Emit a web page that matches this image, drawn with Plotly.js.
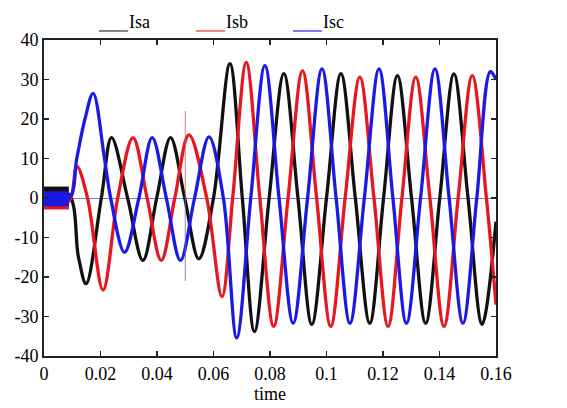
<!DOCTYPE html>
<html>
<head>
<meta charset="utf-8">
<script src="https://cdn.plot.ly/plotly-3.0.1.min.js"></script>
<style>
html,body{margin:0;padding:0;background:#fff;}
#chart{width:567px;height:408px;}
</style>
</head>
<body>
<div id="chart"></div>
<script>
// ---- data ----
const seriesNames = ['Isa', 'Isb', 'Isc'];

const isaT = [0, 0.0086, 0.0122, 0.0149, 0.0203, 0.0239, 0.0296, 0.0350, 0.0399, 0.0448, 0.0498, 0.0548, 0.0600, 0.0658, 0.0702, 0.0745, 0.0797, 0.0849, 0.0899, 0.0948, 0.1000, 0.1051, 0.1102, 0.1153, 0.1202, 0.1251, 0.1301, 0.1351, 0.1401, 0.1451, 0.1501, 0.1551, 0.1600];
const isaV = [1, 1, -15, -21.7, 0, 15.3, 0, -15.8, 0, 15.3, 0, -15.4, 0, 34, 0, -33.8, 0, 31.5, 0, -32, 0, 31.5, 0, -31.7, 0, 31, 0, -31.7, 0, 31.4, 0, -32, -6];

const isbT = [0, 0.0086, 0.0116, 0.0154, 0.0209, 0.0261, 0.0315, 0.0365, 0.0415, 0.0463, 0.0513, 0.0576, 0.0630, 0.0668, 0.0716, 0.0764, 0.0813, 0.0864, 0.0915, 0.0965, 0.1015, 0.1066, 0.1118, 0.1168, 0.1218, 0.1267, 0.1316, 0.1366, 0.1416, 0.1466, 0.1516, 0.1566, 0.1600];
const isbV = [-1, -1, 8, 0, -23.3, 0, 15.3, 0, -15.8, 0, 16, 0, -25, 0, 34.3, 0, -32.5, 0, 32.2, 0, -32.5, 0, 30.6, 0, -32.5, 0, 30.6, 0, -32.5, 0, 31, 0, -27];

const iscT = [0, 0.0088, 0.0116, 0.0145, 0.0174, 0.0214, 0.0236, 0.0285, 0.0336, 0.0383, 0.0433, 0.0483, 0.0533, 0.0584, 0.0635, 0.0682, 0.0732, 0.0782, 0.0832, 0.0882, 0.0933, 0.0984, 0.1034, 0.1083, 0.1134, 0.1186, 0.1235, 0.1283, 0.1333, 0.1384, 0.1434, 0.1483, 0.1532, 0.1580, 0.1600];
const iscV = [-0.2, -0.2, 10, 20, 26.5, 10, 0, -13.75, 0, 15.3, 0, -15.8, 0, 15.5, 0, -35.4, 0, 33.5, 0, -31.7, 0, 32.7, 0, -31.7, 0, 32.7, 0, -31.7, 0, 32.7, 0, -31.7, 0, 32, 30];

// initial noisy band (before the transient): time span and band centres
const bandT = [0, 0.0088];
const bandIsa = [1.0, 1.0];
const bandIsb = [-1.0, -1.0];
const bandIsc = [-0.2, -0.2];

// thin spike at the switching instant
const spikeT = [0.0500, 0.0500];
const spikeUp = [0, 22];
const spikeDown = [0, -21];

// axis ticks
const xTickVals = [0, 0.02, 0.04, 0.06, 0.08, 0.1, 0.12, 0.14, 0.16];
const xTickText = ['0', '0.02', '0.04', '0.06', '0.08', '0.1', '0.12', '0.14', '0.16'];
const yTickVals = [-40, -30, -20, -10, 0, 10, 20, 30, 40];
const yTickText = ['-40', '-30', '-20', '-10', '0', '10', '20', '30', '40'];

// ---- styling ----
const cBlack = '#111111', cRed = '#e8161e', cBlue = '#1a1ae6';
const legendColors = ['#666666', '#f06464', '#5a5af0'];
const lineW = 3.3;
const bandW = 15;
const serif = 'Liberation Serif, Times New Roman, serif';

const traces = [
  {x: isaT, y: isaV, name: seriesNames[0], mode: 'lines', line: {color: cBlack, width: lineW, shape: 'spline', smoothing: 1}},
  {x: isbT, y: isbV, name: seriesNames[1], mode: 'lines', line: {color: cRed, width: lineW, shape: 'spline', smoothing: 1}},
  {x: iscT, y: iscV, name: seriesNames[2], mode: 'lines', line: {color: cBlue, width: lineW, shape: 'spline', smoothing: 1}},
  {x: bandT, y: bandIsa, mode: 'lines', line: {color: cBlack, width: bandW}, showlegend: false},
  {x: bandT, y: bandIsb, mode: 'lines', line: {color: cRed, width: bandW}, showlegend: false},
  {x: bandT, y: bandIsc, mode: 'lines', line: {color: cBlue, width: bandW}, showlegend: false},
  {x: spikeT, y: spikeUp, mode: 'lines', line: {color: 'rgba(220,90,90,0.8)', width: 1}, showlegend: false},
  {x: spikeT, y: spikeDown, mode: 'lines', line: {color: 'rgba(110,110,190,0.8)', width: 1}, showlegend: false}
];

// custom legend: short coloured rule followed by the series name
const legendX0 = [0.1217, 0.3363, 0.5509];
const legendLen = 0.064;
const legendY = 1.0285;
const shapes = legendX0.map((x0, i) => ({
  type: 'line', xref: 'paper', yref: 'paper',
  x0: x0, x1: x0 + legendLen, y0: legendY, y1: legendY,
  line: {color: legendColors[i], width: 1.6}
}));
const annotations = legendX0.map((x0, i) => ({
  xref: 'paper', yref: 'paper', x: x0 + legendLen, y: 1, xanchor: 'left', yanchor: 'bottom',
  yshift: 6, xshift: -1, showarrow: false, text: seriesNames[i],
  font: {family: serif, size: 18, color: '#000'}
}));

const layout = {
  width: 567, height: 408,
  margin: {l: 44, r: 71, t: 40, b: 52, pad: 0},
  paper_bgcolor: '#fff', plot_bgcolor: '#fff',
  font: {family: serif, size: 18, color: '#000'},
  showlegend: false,
  xaxis: {
    range: [0, 0.16], tickvals: xTickVals, ticktext: xTickText,
    showline: true, linecolor: '#222', linewidth: 2, mirror: 'ticks',
    ticks: 'inside', ticklen: 5, tickwidth: 1.5, tickcolor: '#222',
    showgrid: false, zeroline: false, automargin: false,
    title: {text: 'time', font: {family: serif, size: 18}, standoff: 5}
  },
  yaxis: {
    range: [-40, 40], tickvals: yTickVals, ticktext: yTickText,
    showline: true, linecolor: '#222', linewidth: 2, mirror: 'ticks',
    ticks: 'inside', ticklen: 5, tickwidth: 1.5, tickcolor: '#222',
    showgrid: false, zeroline: true, zerolinecolor: '#7a7ad8', zerolinewidth: 1,
    automargin: false
  },
  shapes: shapes,
  annotations: annotations
};

Plotly.newPlot('chart', traces, layout, {staticPlot: true, displayModeBar: false});
</script>
</body>
</html>
